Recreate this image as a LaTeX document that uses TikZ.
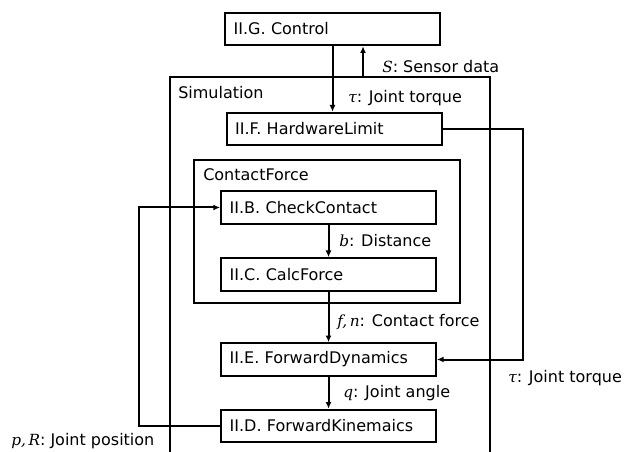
\documentclass[tikz,border=0pt]{standalone}
\usepackage{fontspec}
\setmainfont{DejaVu Sans}
\newfontfamily\mvfont{DejaVu Serif}
\newcommand\mv[1]{{\mvfont\itshape\fontsize{11.5}{14}\selectfont #1}}
\usetikzlibrary{arrows.meta}
\begin{document}
\begin{tikzpicture}[x=0.75pt,y=-0.75pt,
  font=\fontsize{12}{14}\selectfont,
  ln/.style={draw, line width=1.5pt},
  blk/.style={ln, minimum width=161.25pt, minimum height=24.5pt,
    inner xsep=6.5pt, inner ysep=0pt, text width=148.25pt, align=left},
  lbl/.style={anchor=west, inner sep=0pt},
  arr/.style={ln, -{Latex[length=5pt,width=4.5pt]}}]
\useasboundingbox (0,0) rectangle (642,452);
% containers
\draw[ln] (170,452) -- (170,77) -- (490,77) -- (490,452);
\node[ln, minimum width=199.5pt, minimum height=107.25pt, inner sep=0pt] (cfbox) at (327,231.5) {};
% blocks
\node[blk] (ctrl) at (332.5,29) {II.G. Control};
\node[blk] (hw) at (334,129) {II.F. HardwareLimit};
\node[blk] (cc) at (328.5,207.5) {II.B. CheckContact};
\node[blk] (cf) at (328.5,274.5) {II.C. CalcForce};
\node[blk] (fd) at (328.5,359.5) {II.E. ForwardDynamics};
\node[blk] (fk) at (328.5,426) {II.D. ForwardKinemaics};
\coordinate (simtop) at (363,77);
% labels
\node[lbl] (l1) at (382,67) {\mv{S}: Sensor data};
\node[lbl] (l2) at (178,93) {Simulation};
\node[lbl] (l3) at (348,98) {\mv{τ}: Joint torque};
\node[lbl] (l4) at (203,175) {ContactForce};
\node[lbl] (l5) at (339,241) {\mv{b}: Distance};
\node[lbl] (l6) at (337,322) {\mv{f,\,n}: Contact force};
\node[lbl] (l7) at (343,393) {\mv{q}: Joint angle};
\node[lbl] (l8) at (508,378) {\mv{τ}: Joint torque};
\node[lbl] (l9) at (11,441) {\mv{p,\,R}: Joint position};
% connectors
\draw[arr] (ctrl.south) -- (ctrl.south |- hw.north);
\draw[arr] (simtop) -- (simtop |- ctrl.south);
\draw[arr] (cc) -- (cf);
\draw[arr] (cf) -- (fd);
\draw[arr] (fd) -- (fk);
\draw[arr] (hw.east) -- ++(80,0) |- (fd.east);
\draw[arr] (fk.west) -- ++(-81,0) |- (cc.west);
\end{tikzpicture}
\end{document}
